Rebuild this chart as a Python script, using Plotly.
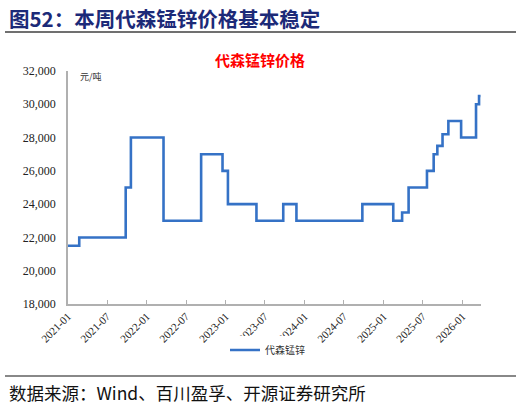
import plotly.graph_objects as go

# change points of the weekly price series (yuan/ton)
dates = ["2021-01-01", "2021-02-22", "2021-09-25", "2021-10-19", "2022-03-19",
         "2022-09-09", "2022-12-17", "2023-01-11", "2023-05-23", "2023-09-24",
         "2023-11-24", "2024-09-24", "2025-02-14", "2025-03-27", "2025-04-26",
         "2025-07-20", "2025-08-20", "2025-09-06", "2025-09-30", "2025-10-27",
         "2025-12-25", "2026-03-04", "2026-03-18", "2026-03-25"]
prices = [21500, 22000, 25000, 28000, 23000,
          27000, 26000, 24000, 23000, 24000,
          23000, 24000, 23000, 23500, 25000,
          26000, 27000, 27500, 28200, 29000,
          28000, 30000, 30500, 30500]

tick_vals = ["2021-01-01", "2021-07-01", "2022-01-01", "2022-07-01", "2023-01-01", "2023-07-01",
             "2024-01-01", "2024-07-01", "2025-01-01", "2025-07-01", "2026-01-01"]
tick_text = [d[:7] for d in tick_vals]

serif = "Liberation Serif, Times New Roman, serif"
cjk = "Noto Sans CJK SC"

L, R, T, B = 68, 40, 71, 101
pw, ph = 521 - L - R, 405 - T - B


def px(x):
    return (x - L) / pw


def py(y):
    return 1 - (y - T) / ph


fig = go.Figure()
fig.add_trace(go.Scatter(
    x=dates, y=prices, mode="lines", name="代森锰锌",
    line=dict(color="#3572c6", width=2.6, shape="hv"),
))

fig.update_layout(
    width=521, height=405,
    margin=dict(l=L, r=R, t=T, b=B, autoexpand=False),
    paper_bgcolor="white", plot_bgcolor="white",
    showlegend=True,
    legend=dict(orientation="h", x=px(225), xanchor="left", y=py(350), yanchor="middle",
                font=dict(family=cjk, size=10, color="#333333")),
    xaxis=dict(
        range=["2021-01-01", "2026-03-27"],
        tickvals=tick_vals, ticktext=tick_text, tickangle=-45,
        tickfont=dict(family=serif, size=11, color="#222222"),
        showgrid=False, zeroline=False,
        showline=True, linecolor="#b0b0b0", linewidth=1.5,
        ticks="inside", ticklen=4, tickcolor="#b0b0b0",
    ),
    yaxis=dict(
        range=[18000, 32000], dtick=2000, tickformat=",",
        tickfont=dict(family=serif, size=12, color="#222222"),
        showgrid=False, zeroline=False,
        showline=True, linecolor="#b0b0b0", linewidth=1.5,
        ticks="", ticklabelstandoff=8,
    ),
)


def note(x, y, text, size, color, anchor="left"):
    fig.add_annotation(x=px(x), y=py(y), xref="paper", yref="paper", text=text,
                       showarrow=False, xanchor=anchor, yanchor="middle",
                       font=dict(family=cjk, size=size, color=color))


note(7, 18, "<b>图52：本周代森锰锌价格基本稳定</b>", 20.5, "#1c2a78")
note(260, 60, "<b>代森锰锌价格</b>", 15, "#ff0000", anchor="center")
note(78, 77, "元/吨", 9, "#333333")
note(7, 392, "数据来源：Wind、百川盈孚、开源证券研究所", 17.5, "#111111")

fig.add_shape(type="line", xref="paper", yref="paper",
              x0=px(5), x1=px(516), y0=py(32), y1=py(32),
              line=dict(color="#404040", width=1.5))
fig.add_shape(type="line", xref="paper", yref="paper",
              x0=px(5), x1=px(516), y0=py(376), y1=py(376),
              line=dict(color="#606060", width=1.5))

fig.write_html("out.html", config={"displayModeBar": False},
               post_script="document.body.style.margin='0';")
